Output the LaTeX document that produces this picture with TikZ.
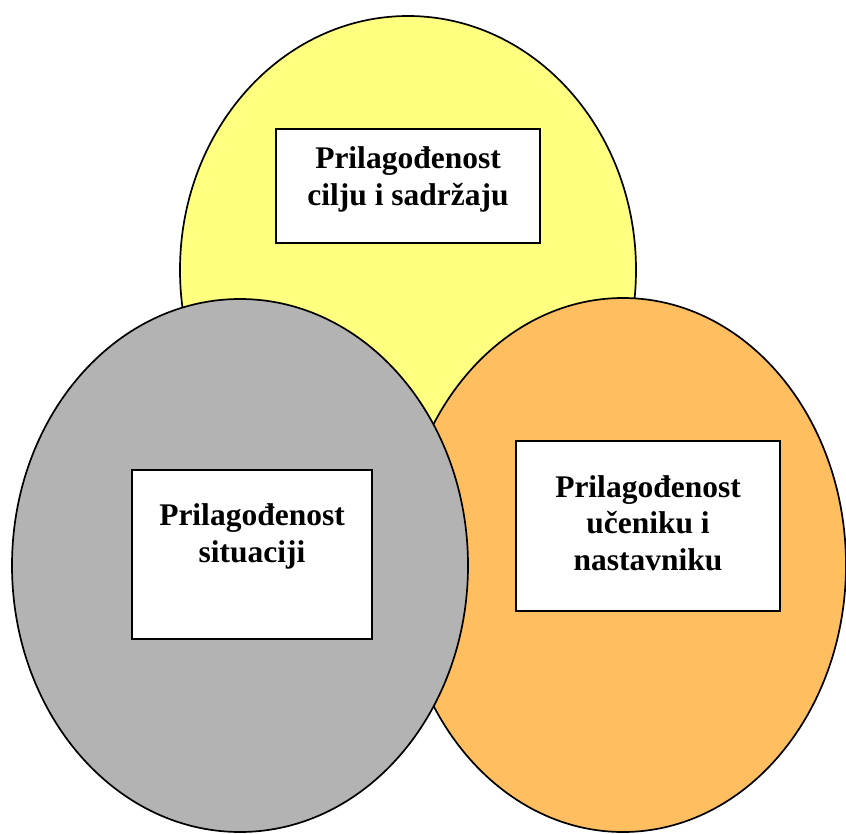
\documentclass[tikz,border=0pt]{standalone}
\usepackage{fontspec}
\setmainfont{Liberation Serif}
\usetikzlibrary{shapes.geometric}
\definecolor{blobyellow}{RGB}{255,255,128}
\definecolor{bloborange}{RGB}{255,190,96}
\definecolor{blobgray}{RGB}{179,179,179}
\begin{document}
\begin{tikzpicture}[x=1pt,y=-1pt,
  blob/.style={draw=black,line width=1.7pt},
  labelbox/.style={draw=black,fill=white,line width=2pt,rectangle,inner sep=0pt},
  labeltext/.style={align=center,inner sep=0pt,anchor=base,
    font=\fontsize{31.5}{36.5}\selectfont\bfseries}]
\useasboundingbox (0,0) rectangle (846,833);
% three overlapping regions
\fill[blobyellow] (408,270) ellipse [x radius=228, y radius=254];
\draw[blob] (408,270) ellipse [x radius=228, y radius=254];
\filldraw[blob,fill=bloborange] (623,565) ellipse [x radius=223, y radius=267];
\filldraw[blob,fill=blobgray] (240,565.5) ellipse [x radius=228, y radius=266.5];
% label boxes
\node[labelbox,minimum width=264pt,minimum height=114pt] (goal) at (408,186) {};
\node[labelbox,minimum width=240pt,minimum height=169pt] (sit) at (252,554.5) {};
\node[labelbox,minimum width=264pt,minimum height=170pt] (learn) at (648,526) {};
% labels (anchored at the baseline of their last line)
\node[labeltext] (goaltxt) at (408,205) {Prilagođenost\\cilju i sadržaju};
\node[labeltext] (sittxt) at (252,562) {Prilagođenost\\situaciji};
\node[labeltext] (learntxt) at (648,570) {Prilagođenost\\učeniku i\\nastavniku};
\end{tikzpicture}
\end{document}
